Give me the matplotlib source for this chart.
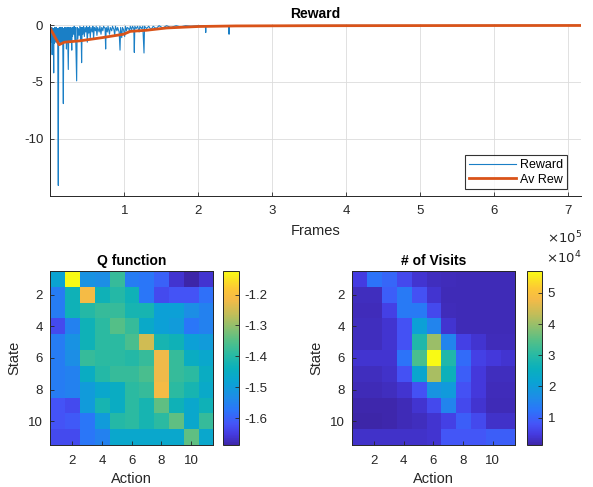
import matplotlib
matplotlib.use('Agg')
import matplotlib.pyplot as plt
import numpy as np
from matplotlib.colors import LinearSegmentedColormap

plt.rcParams['font.family'] = ['Liberation Sans', 'DejaVu Sans']
plt.rcParams['axes.unicode_minus'] = False

W, H = 593, 487

# ── Reward trace (frames in thousands) ──
frames_k = [0, 0.5, 1, 1.5, 2, 2.5, 3, 3.5, 4, 4.6, 5, 5.5, 6, 6.5, 7, 7.5, 8, 8.5,
            9, 9.5, 10, 10.8, 11.3, 11.8, 12.3, 12.8, 13.3, 13.8, 14.3, 14.8, 15.3,
            15.8, 16.3, 16.8, 17.6, 18.2, 18.7, 19.2, 19.7, 20.2, 20.7, 21.2, 21.8,
            22.3, 22.8, 23.3, 24.3, 25, 25.5, 26, 26.5, 27, 27.5, 28, 29, 29.5, 30,
            30.6, 31.5, 32.3, 33.2, 34, 35.6, 36.3, 37.2, 38, 39, 40, 41, 41.6, 42.3,
            43, 44, 45, 46, 47, 48, 49, 50, 51, 52, 53, 54, 55, 56.5, 57.5, 58.5,
            59.5, 61, 62, 63, 64, 66, 67, 68.5, 69.5, 71, 72, 74, 74.8, 75.5, 77, 78,
            80, 81, 83, 84, 86, 87, 88, 90, 91, 93, 94.2, 95, 96.5, 97.5, 99, 100.5,
            101.5, 103, 104, 106, 107, 108, 110, 111, 112.8, 113.5, 114.2, 116, 118,
            120, 121, 123, 125, 126.6, 127.3, 130, 133, 136, 139, 143, 147, 152, 157,
            163, 170, 176, 183, 190, 200, 209.5, 210, 210.5, 241, 241.5, 242, 300,
            400, 500, 600, 717]
reward = [-0.2, -1.3, -0.3, -1.5, -0.2, -2.6, -0.4, -1.4, -0.3, -4.2, -0.3, -1.6,
          -0.2, -1.4, -0.3, -1.5, -0.2, -1.2, -0.4, -1.6, -0.3, -14.1, -0.3, -1.5,
          -0.2, -1.4, -0.3, -1.6, -0.2, -1.3, -0.3, -1.5, -0.2, -1.2, -6.9, -0.3,
          -1.5, -0.2, -1.4, -0.3, -1.2, -0.2, -2.1, -0.3, -1.3, -0.2, -3.9, -0.2,
          -1.4, -0.3, -1.2, -0.2, -1.5, -0.3, -2.2, -0.2, -1.0, -0.2, -0.8, -0.1,
          -1.3, -0.2, -4.9, -0.2, -1.2, -0.3, -0.9, -0.1, -1.4, -0.2, -3.3, -0.2,
          -0.8, -0.1, -1.0, -0.2, -0.6, -0.1, -1.5, -0.2, -0.7, -0.1, -1.1, -0.2,
          -0.6, -0.1, -1.2, -0.2, -0.5, -0.1, -0.9, -0.2, -0.6, -0.1, -0.8, -0.2,
          -0.5, -0.1, -0.3, -2.1, -0.2, -0.6, -0.1, -0.8, -0.2, -0.5, -0.1, -0.4,
          -0.9, -0.1, -0.5, -0.2, -0.6, -2.2, -0.2, -1.1, -0.2, -0.4, -1.0, -0.1,
          -0.5, -0.2, -0.3, -0.6, -0.1, -0.4, -0.1, -0.3, -2.4, -0.1, -0.3, -0.1,
          -0.6, -0.1, -0.3, -0.1, -2.45, -0.1, -0.3, -0.1, -0.4, -0.1, -0.3, -0.05,
          -0.25, -0.05, -0.2, -0.05, -0.15, -0.05, -0.1, -0.05, -0.05, -0.65, -0.05,
          -0.05, -0.8, -0.05, -0.04, -0.02, -0.03, -0.02, -0.02]

avg_frames_k = [0, 12, 19, 40, 70, 99, 108, 130, 157, 200, 250, 350, 500, 717]
avg_reward = [-0.3, -1.72, -1.5, -1.38, -1.1, -0.8, -0.55, -0.45, -0.25, -0.12,
              -0.07, -0.05, -0.04, -0.03]

# ── Q function (11 states x 11 actions) ──
q_values = np.array([
    [-1.48, -1.124, -1.52, -1.53, -1.38, -1.56, -1.57, -1.60, -1.66, -1.686, -1.66],
    [-1.56, -1.43, -1.21, -1.43, -1.40, -1.43, -1.57, -1.63, -1.62, -1.62, -1.58],
    [-1.56, -1.43, -1.40, -1.38, -1.38, -1.42, -1.42, -1.49, -1.49, -1.53, -1.55],
    [-1.63, -1.55, -1.43, -1.39, -1.35, -1.38, -1.46, -1.49, -1.50, -1.57, -1.55],
    [-1.56, -1.52, -1.43, -1.39, -1.39, -1.36, -1.25, -1.42, -1.43, -1.49, -1.50],
    [-1.56, -1.53, -1.38, -1.39, -1.39, -1.40, -1.38, -1.22, -1.38, -1.45, -1.47],
    [-1.56, -1.55, -1.45, -1.40, -1.38, -1.38, -1.36, -1.22, -1.38, -1.39, -1.45],
    [-1.56, -1.55, -1.50, -1.47, -1.45, -1.39, -1.38, -1.21, -1.39, -1.42, -1.46],
    [-1.62, -1.63, -1.50, -1.42, -1.45, -1.39, -1.42, -1.34, -1.43, -1.47, -1.43],
    [-1.62, -1.61, -1.57, -1.50, -1.40, -1.39, -1.42, -1.39, -1.34, -1.47, -1.38],
    [-1.63, -1.63, -1.57, -1.55, -1.47, -1.47, -1.47, -1.47, -1.47, -1.34, -1.47],
])

# ── Visit counts (x 1e4) ──
visits = np.array([
    [0.49, 1.22, 1.05, 0.66, 0.38, 0.27, 0.25, 0.22, 0.22, 0.22, 0.22],
    [0.27, 0.27, 0.94, 1.33, 0.77, 0.38, 0.21, 0.21, 0.21, 0.21, 0.21],
    [0.25, 0.25, 0.55, 1.33, 1.33, 0.66, 0.25, 0.21, 0.21, 0.21, 0.21],
    [0.27, 0.27, 0.38, 0.77, 2.06, 1.50, 0.38, 0.22, 0.21, 0.21, 0.21],
    [0.27, 0.27, 0.38, 0.77, 2.90, 4.02, 1.50, 0.55, 0.38, 0.25, 0.25],
    [0.38, 0.38, 0.38, 1.22, 3.35, 5.70, 2.90, 1.11, 0.55, 0.44, 0.38],
    [0.27, 0.27, 0.32, 0.77, 2.23, 4.13, 2.62, 0.94, 0.44, 0.27, 0.27],
    [0.21, 0.21, 0.27, 0.38, 0.77, 1.78, 1.95, 0.77, 0.44, 0.25, 0.25],
    [0.15, 0.15, 0.15, 0.21, 0.38, 0.66, 1.50, 0.66, 0.38, 0.21, 0.21],
    [0.12, 0.12, 0.15, 0.21, 0.27, 0.38, 0.55, 0.94, 0.66, 0.32, 0.32],
    [0.32, 0.32, 0.32, 0.32, 0.32, 0.38, 0.83, 0.83, 0.83, 0.94, 0.94],
])

tick_vals = [2, 4, 6, 8, 10]

# ── parula-like colormap ──
parula = LinearSegmentedColormap.from_list('parula', [
    (0.00, (0.2422, 0.1504, 0.6603)),
    (0.06, (0.2700, 0.2300, 0.8800)),
    (0.12, (0.2700, 0.3300, 0.9700)),
    (0.20, (0.1700, 0.4600, 0.9800)),
    (0.28, (0.1100, 0.5600, 0.9000)),
    (0.36, (0.0400, 0.6400, 0.8300)),
    (0.44, (0.0400, 0.6900, 0.7400)),
    (0.52, (0.1600, 0.7300, 0.6400)),
    (0.60, (0.3300, 0.7500, 0.5300)),
    (0.68, (0.5600, 0.7500, 0.4300)),
    (0.76, (0.7800, 0.7400, 0.3400)),
    (0.84, (0.9600, 0.7300, 0.2800)),
    (0.90, (0.9900, 0.7800, 0.2100)),
    (1.00, (0.9769, 0.9839, 0.0805)),
])

AX = '#262626'
BLUE = '#1A7FC6'
ORANGE = '#D95319'


def box(l, r, t, b):
    return [l / W, 1 - b / H, (r - l) / W, (b - t) / H]


def style(ax, fs=9.5):
    ax.tick_params(direction='in', colors=AX, labelsize=fs, length=3, width=0.6)
    ax.tick_params(axis='x', pad=7)
    ax.tick_params(axis='y', pad=5)
    for s in ax.spines.values():
        s.set_color(AX)
        s.set_linewidth(0.7)


fig = plt.figure(figsize=(W / 100, H / 100), dpi=100)
fig.patch.set_facecolor('white')

# ── Top: reward ──
ax = fig.add_axes(box(50.3, 581, 24, 195.7))
fr = np.array(frames_k) * 1e3
afr = np.array(avg_frames_k) * 1e3
ax.plot(fr, reward, color=BLUE, lw=0.8, label='Reward')
ax.plot(afr, avg_reward, color=ORANGE, lw=2.0, label='Av Rew')
ax.set_xlim(0, 7.17e5)
ax.set_ylim(-15, 0.1)
ax.set_xticks([1e5, 2e5, 3e5, 4e5, 5e5, 6e5, 7e5])
ax.set_xticklabels(['1', '2', '3', '4', '5', '6', '7'])
ax.set_yticks([-10, -5, 0])
ax.set_yticklabels(['-10', '-5', '0'])
ax.grid(True, color='#DCDCDC', lw=0.6)
ax.set_axisbelow(True)
ax.spines['top'].set_visible(False)
ax.spines['right'].set_visible(False)
style(ax)
ax.set_title('Reward', fontsize=10, fontweight='bold', color='black', pad=4)
ax.set_xlabel('Frames', fontsize=10.5, color=AX, labelpad=5)
leg = ax.legend(loc='lower right', fontsize=9, frameon=True, fancybox=False,
                edgecolor='black', handlelength=3.8, borderpad=0.3,
                labelspacing=0.2, handletextpad=0.3, borderaxespad=0.5,
                bbox_to_anchor=(0.985, 0.0))
leg.get_frame().set_linewidth(0.8)
fig.text(582 / W, 1 - 238 / H, r'$\times10^5$', ha='right', va='center',
         fontsize=9.5, color=AX)


def heat(data, rect, crect, title, cticks, clabels):
    a = fig.add_axes(box(*rect))
    im = a.imshow(data, cmap=parula, aspect='auto',
                  extent=(0.5, 11.5, 11.5, 0.5), interpolation='nearest')
    a.set_xticks(tick_vals)
    a.set_yticks(tick_vals)
    style(a)
    a.set_title(title, fontsize=10, fontweight='bold', color='black', pad=4)
    a.set_xlabel('Action', fontsize=10.5, color=AX, labelpad=4)
    a.set_ylabel('State', fontsize=10.5, color=AX, labelpad=5)
    ca = fig.add_axes(box(*crect))
    cb = fig.colorbar(im, cax=ca)
    cb.set_ticks(cticks)
    cb.set_ticklabels(clabels)
    style(ca)
    ca.tick_params(axis='y', pad=4)
    cb.outline.set_edgecolor(AX)
    cb.outline.set_linewidth(0.7)
    return a


heat(q_values, (50, 213.3, 271, 445), (223.3, 239, 271, 445), 'Q function',
     [-1.6, -1.5, -1.4, -1.3, -1.2], ['-1.6', '-1.5', '-1.4', '-1.3', '-1.2'])
heat(visits, (351.7, 515, 271, 445), (526.7, 542.3, 271, 445), '# of Visits',
     [1, 2, 3, 4, 5], ['1', '2', '3', '4', '5'])
fig.text(581 / W, 1 - 258 / H, r'$\times10^4$', ha='right', va='center',
         fontsize=9.5, color=AX)

fig.savefig('out.png', dpi=100)
